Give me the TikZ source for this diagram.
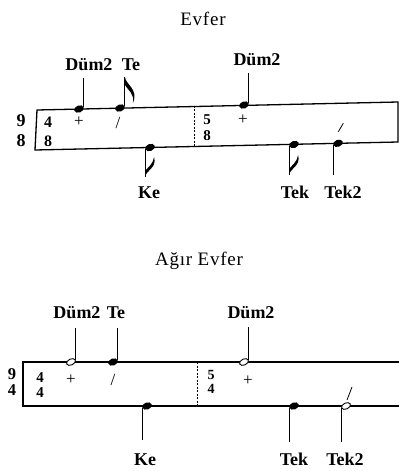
\documentclass[tikz,border=0pt]{standalone}
\usepackage{fontspec}
\setmainfont{Liberation Serif}
\newfontfamily\titlefont[LetterSpace=4]{Liberation Serif}
\usetikzlibrary{shapes.geometric,calc}

\tikzset{
  upflag/.pic={\fill (0,0) .. controls (1,8) and (14,12) .. (8,26) .. controls (10,17) and (3,13) .. (0,8) -- cycle;},
  downflag/.pic={\fill (0,0) .. controls (1,-7) and (12,-9) .. (9,-20) .. controls (8,-13) and (3,-10) .. (0,-6) -- cycle;}
}

\begin{document}
\begin{tikzpicture}[
  x=1pt, y=-1pt,
  ttl/.style={anchor=base, font=\titlefont\fontsize{19}{19}\selectfont},
  lbl/.style={anchor=base, font=\fontsize{18}{18}\selectfont\bfseries},
  meter/.style 2 args={align=center, inner sep=0pt, font=\fontsize{#1}{#2}\selectfont\bfseries},
  beat/.style={inner sep=0pt, font=\fontsize{17}{17}\selectfont},
  head/.style={ellipse, fill=black, minimum width=10pt, minimum height=7pt, inner sep=0pt, rotate=20},
  ohead/.style={ellipse, draw, fill=white, line width=0.9pt, minimum width=9.5pt, minimum height=6pt, inner sep=0pt, rotate=25},
  stem/.style={line width=0.8pt},
  staff/.style={line width=1.3pt},
  bar/.style={dashed, dash pattern=on 2pt off 1.5pt, line width=0.6pt}
]
\useasboundingbox (0,0) rectangle (399,471);

% Evfer
\node[ttl] (ttlA) at (203,25) {Evfer};
\draw[staff] (37,110) -- (398,102) -- (398,142) -- (35,150) -- cycle;
\draw[bar] (194,105.5) -- (194,145.5);

\node[meter={18}{20}] (mA) at (21,131) {9\\8};
\node[meter={16}{19}] (sA1) at (48,132) {4\\8};
\node[meter={15}{15.5}] (sA2) at (207,127.5) {5\\8};

\node[beat] (pA1) at (79,122) {+};
\node[beat] (pA2) at (118,123) {/};
\node[beat] (pA3) at (243,120) {+};

\node[head] (dumA) at (79,109) {};
\node[head] (teA) at (120,108) {};
\node[head] (dumB) at (244,105) {};
\node[head] (keA) at (150,147.5) {};
\node[head] (tekA) at (294,144.5) {};
\node[head] (tekbA) at (338,143.3) {};

\coordinate (sDumA) at (0,78);
\coordinate (sTeA) at (0,77);
\coordinate (sDumB) at (0,73);
\coordinate (sKeA) at (0,177);
\coordinate (sTekA) at (0,175);
\coordinate (sTekbA) at (0,175);
\draw[stem] (dumA.east) -- (dumA.east |- sDumA);
\draw[stem] (teA.east) -- (teA.east |- sTeA);
\draw[stem] (dumB.east) -- (dumB.east |- sDumB);
\draw[stem] (keA.west) -- (keA.west |- sKeA);
\draw[stem] (tekA.west) -- (tekA.west |- sTekA);
\draw[stem] (tekbA.west) -- (tekbA.west |- sTekbA);
\pic at (teA.east |- sTeA) {upflag};
\pic at (keA.west |- sKeA) {downflag};
\pic at (tekA.west |- sTekA) {downflag};
\draw[stem] (338.3,131.7) -- (343.3,123.3);

\node[lbl] (lDumA) at (89,70) {Düm2};
\node[lbl] (lTeA) at (131,70) {Te};
\node[lbl] (lDumB) at (257,65) {Düm2};
\node[lbl] (lKeA) at (149,198) {Ke};
\node[lbl] (lTekA) at (295,198) {Tek};
\node[lbl] (lTekbA) at (343,198) {Tek2};

% Agir Evfer
\node[ttl] (ttlB) at (199,265) {Ağır Evfer};
\draw[staff] (399,362) -- (23,362) -- (23,406) -- (399,406);
\draw[bar] (197,362) -- (197,406);

\node[meter={16.5}{16.5}] (mB) at (12,382) {9\\4};
\node[meter={15}{15}] (sB1) at (40,385) {4\\4};
\node[meter={14}{14}] (sB2) at (211,382) {5\\4};

\node[beat] (pB1) at (71,380) {+};
\node[beat] (pB2) at (113,380) {/};
\node[beat] (pB3) at (248,381) {+};

\node[ohead] (dumC) at (71,362) {};
\node[head] (teC) at (113,362) {};
\node[ohead] (dumD) at (244,362) {};
\node[head] (keC) at (147,406) {};
\node[head] (tekC) at (294,406) {};
\node[ohead] (tekbC) at (346,406) {};

\coordinate (sDumC) at (0,328);
\coordinate (sTeC) at (0,328);
\coordinate (sDumD) at (0,327);
\coordinate (sKeC) at (0,440);
\coordinate (sTekC) at (0,442);
\coordinate (sTekbC) at (0,442);
\draw[stem] (dumC.east) -- (dumC.east |- sDumC);
\draw[stem] (teC.east) -- (teC.east |- sTeC);
\draw[stem] (dumD.east) -- (dumD.east |- sDumD);
\draw[stem] (keC.west) -- (keC.west |- sKeC);
\draw[stem] (tekC.west) -- (tekC.west |- sTekC);
\draw[stem] (tekbC.west) -- (tekbC.west |- sTekbC);
\draw[stem] (347,400) -- (352,387);

\node[lbl] (lDumC) at (77,318) {Düm2};
\node[lbl] (lTeC) at (116,318) {Te};
\node[lbl] (lDumD) at (251,318) {Düm2};
\node[lbl] (lKeC) at (145,465) {Ke};
\node[lbl] (lTekC) at (294,465) {Tek};
\node[lbl] (lTekbC) at (345,465) {Tek2};
\end{tikzpicture}
\end{document}
